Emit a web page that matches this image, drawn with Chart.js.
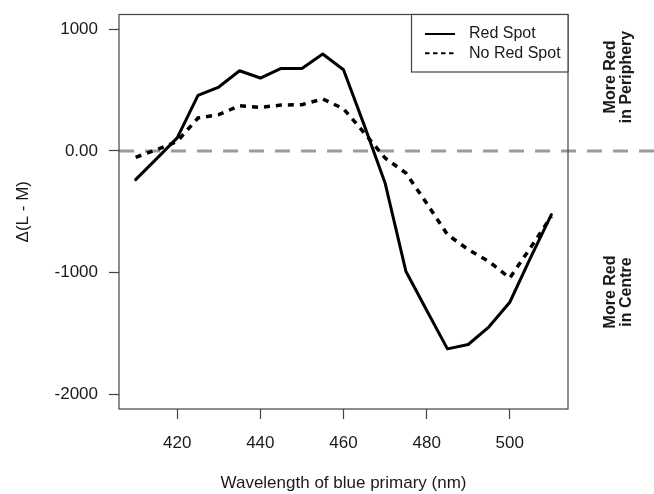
<!DOCTYPE html>
<html>
<head>
<meta charset="utf-8">
<script src="https://cdn.jsdelivr.net/npm/chart.js@4.4.1/dist/chart.umd.min.js"></script>
<style>
  body { margin: 0; background: #fff; }
  canvas { display: block; }
</style>
</head>
<body>
<canvas id="grafico" width="654" height="494"></canvas>
<script>
// valores, passo de 5 nm
const wavelengths = [410, 415, 420, 425, 430, 435, 440, 445, 450, 455, 460,
  465, 470, 475, 480, 485, 490, 495, 500, 505, 510];
const redSpot = [-236, -65, 107, 456, 525, 659, 599, 678, 678, 796, 667,
  210, -263, -988, -1309, -1626, -1590, -1445, -1243, -876, -523];
const noRedSpot = [-52, 10, 79, 271, 298, 372, 358, 377, 380, 427, 347,
  148, -58, -181, -430, -687, -810, -909, -1043, -794, -537];

const xTicks = [420, 440, 460, 480, 500];
const yTicks = [-2000, -1000, 0, 1000];
const yTickLabels = ["-2000", "-1000", "0.00", "1000"];

const FONT = "'Liberation Sans', Arial, sans-serif";
const INK = "#1a1a1a";
const BOX = "#444";

// linha tracejada no zero, vai ate a borda direita
const zeroLine = {
  id: "zeroLine",
  beforeDatasetsDraw(chart) {
    const ctx = chart.ctx;
    const y = chart.scales.y.getPixelForValue(0);
    ctx.save();
    ctx.strokeStyle = "#9a9a9a";
    ctx.lineWidth = 3;
    ctx.setLineDash([15, 11]);
    ctx.beginPath();
    ctx.moveTo(chart.chartArea.left, y);
    ctx.lineTo(chart.width, y);
    ctx.stroke();
    ctx.restore();
  },
};

// caixa, legenda e textos laterais
const extras = {
  id: "extras",
  afterDraw(chart) {
    const ctx = chart.ctx;
    const a = chart.chartArea;
    ctx.save();
    ctx.strokeStyle = BOX;
    ctx.lineWidth = 1.2;
    ctx.strokeRect(a.left, a.top, a.right - a.left, a.bottom - a.top);

    // legenda
    const lx = 411.5, ly = a.top, lw = a.right - 411.5, lh = 57.5;
    ctx.fillStyle = "#fff";
    ctx.fillRect(lx, ly, lw, lh);
    ctx.strokeRect(lx, ly, lw, lh);
    ctx.font = "16px " + FONT;
    ctx.textBaseline = "middle";
    ctx.textAlign = "left";
    chart.data.datasets.forEach((ds, i) => {
      const yy = ly + 19.5 + i * 19.3;
      ctx.strokeStyle = ds.borderColor;
      ctx.lineWidth = 2;
      ctx.setLineDash(ds.borderDash && ds.borderDash.length ? [4.5, 3.5] : []);
      ctx.beginPath();
      ctx.moveTo(425, yy);
      ctx.lineTo(455, yy);
      ctx.stroke();
      ctx.fillStyle = INK;
      ctx.fillText(ds.label, 469, yy);
    });
    ctx.setLineDash([]);

    // textos verticais a direita
    ctx.font = "bold 16px " + FONT;
    ctx.fillStyle = INK;
    ctx.textAlign = "center";
    const sides = [
      { y: 77, lines: ["More Red", "in Periphery"] },
      { y: 292, lines: ["More Red", "in Centre"] },
    ];
    sides.forEach((s) => {
      ctx.save();
      ctx.translate(611, s.y);
      ctx.rotate(-Math.PI / 2);
      s.lines.forEach((t, k) => ctx.fillText(t, 0, k * 15.5));
      ctx.restore();
    });
    ctx.restore();
  },
};

const ctx = document.getElementById("grafico").getContext("2d");
const myChart = new Chart(ctx, {
  type: "line",
  data: {
    datasets: [
      {
        label: "Red Spot",
        data: wavelengths.map((w, i) => ({ x: w, y: redSpot[i] })),
        borderColor: "#000",
        borderWidth: 3,
        borderJoinStyle: "round",
        borderCapStyle: "round",
        pointRadius: 0,
        tension: 0,
      },
      {
        label: "No Red Spot",
        data: wavelengths.map((w, i) => ({ x: w, y: noRedSpot[i] })),
        borderColor: "#000",
        borderWidth: 3.5,
        borderDash: [6, 6],
        borderCapStyle: "butt",
        pointRadius: 0,
        tension: 0,
      },
    ],
  },
  options: {
    responsive: false,
    animation: false,
    layout: { padding: { top: 14.5, right: 86, left: 0, bottom: 0 } },
    plugins: {
      legend: { display: false },
      tooltip: { enabled: false },
    },
    scales: {
      x: {
        type: "linear",
        min: 406,
        max: 514,
        afterBuildTicks: (s) => { s.ticks = xTicks.map((v) => ({ value: v })); },
        afterFit: (s) => {
          s.height = 85;
          s.paddingLeft = 0;
          s.paddingRight = 0;
        },
        grid: { drawOnChartArea: false, tickLength: 10, color: BOX, tickWidth: 1.2 },
        border: { display: false },
        ticks: { color: INK, font: { family: FONT, size: 17 }, padding: 14, maxRotation: 0 },
        title: {
          display: true,
          text: "Wavelength of blue primary (nm)",
          color: INK,
          font: { family: FONT, size: 17 },
          padding: { top: 0, bottom: 0 },
        },
      },
      y: {
        type: "linear",
        min: -2120,
        max: 1121,
        afterBuildTicks: (s) => { s.ticks = yTicks.map((v) => ({ value: v })); },
        afterFit: (s) => {
          s.width = 119;
          s.paddingTop = 0;
          s.paddingBottom = 0;
        },
        grid: { drawOnChartArea: false, tickLength: 10, color: BOX, tickWidth: 1.2 },
        border: { display: false },
        ticks: {
          color: INK,
          font: { family: FONT, size: 17 },
          padding: 11,
          callback: (v) => yTickLabels[yTicks.indexOf(v)],
        },
        title: {
          display: true,
          text: "Δ(L - M)",
          color: INK,
          font: { family: FONT, size: 17 },
          padding: { top: 13, bottom: 0 },
        },
      },
    },
  },
  plugins: [zeroLine, extras],
});
</script>
</body>
</html>
